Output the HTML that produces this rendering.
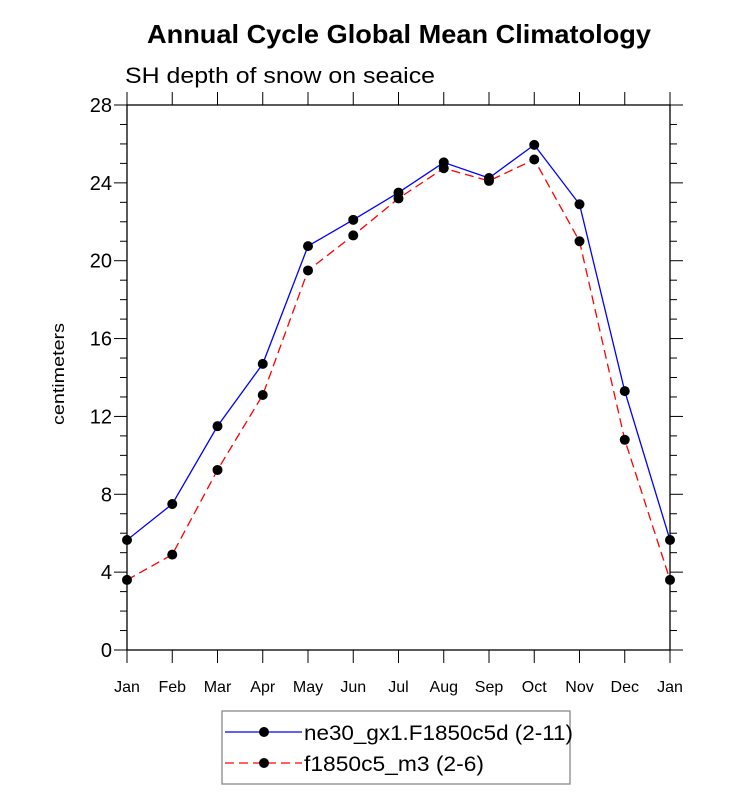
<!DOCTYPE html>
<html><head><meta charset="utf-8"><style>
body{margin:0;background:#fff}
svg text{font-family:"Liberation Sans",Arial,sans-serif}
</style></head><body>
<svg id="c" width="733" height="806" xmlns="http://www.w3.org/2000/svg">
<text x="147" y="43" font-size="26" font-weight="bold" textLength="504" lengthAdjust="spacingAndGlyphs">Annual Cycle Global Mean Climatology</text>
<text x="125" y="83" font-size="22" textLength="310" lengthAdjust="spacingAndGlyphs">SH depth of snow on seaice</text>
<text transform="translate(64,374) rotate(-90)" text-anchor="middle" font-size="17" textLength="102" lengthAdjust="spacingAndGlyphs">centimeters</text>
<g id="axes"></g>
<g id="series"></g>
<g id="legend"></g>
</svg>
<script>
const months=["Jan","Feb","Mar","Apr","May","Jun","Jul","Aug","Sep","Oct","Nov","Dec","Jan"];
const yTicks=[0,4,8,12,16,20,24,28];
const seriesA=[5.65,7.5,11.5,14.7,20.75,22.1,23.5,25.05,24.25,25.95,22.9,13.3,5.65];
const seriesB=[3.6,4.9,9.25,13.1,19.5,21.3,23.2,24.75,24.1,25.2,21.0,10.8,3.6];
const namesL=["ne30_gx1.F1850c5d (2-11)","f1850c5_m3 (2-6)"];
const legW=[269,180];
const X0=127,X1=670,Y0=650,Y1=105,YMAX=28;
const sx=i=>X0+i*(X1-X0)/(months.length-1);
const sy=v=>Y0-v*(Y0-Y1)/YMAX;
const NS="http://www.w3.org/2000/svg";
function mk(t,a,p){const e=document.createElementNS(NS,t);for(const k in a)e.setAttribute(k,a[k]);p.appendChild(e);return e;}
const ax=document.getElementById('axes');
const frame=mk('rect',{x:X0,y:Y1,width:X1-X0,height:Y0-Y1,fill:'none',stroke:'#000','stroke-width':1.3},ax);


for(let v=0;v<=YMAX;v++){
  const maj=v%4===0,len=maj?13:7,y=sy(v);
  mk('line',{x1:X0-len,x2:X0,y1:y,y2:y,stroke:'#000','stroke-width':1},ax);
  mk('line',{x1:X1,x2:X1+len,y1:y,y2:y,stroke:'#000','stroke-width':1},ax);
}
yTicks.forEach(v=>{
  const t=mk('text',{x:X0-15,y:sy(v)+7,'text-anchor':'end','font-size':20},ax);
  t.textContent=v;
  
  
});
months.forEach((m,i)=>{
  const x=sx(i);
  mk('line',{x1:x,x2:x,y1:Y0,y2:Y0+13,stroke:'#000','stroke-width':1},ax);
  mk('line',{x1:x,x2:x,y1:Y1-13,y2:Y1,stroke:'#000','stroke-width':1},ax);
  const t=mk('text',{x:x,y:Y0+42,'text-anchor':'middle','font-size':16},ax);
  t.textContent=m;
  
  
});
const sg=document.getElementById('series');
function draw(vals,color,dash,name){
  const pl=mk('polyline',{points:vals.map((v,i)=>sx(i)+','+sy(v)).join(' '),fill:'none',stroke:color,'stroke-width':1.3,'stroke-dasharray':dash},sg);
  
  
  vals.forEach((v,i)=>{
    const c=mk('circle',{cx:sx(i),cy:sy(v),r:5,fill:'#000'},sg);
    
    
  });
}
draw(seriesA,'#0000ff','none','series-ne30');
draw(seriesB,'#ff0000','9,5','series-f1850');
const lg=document.getElementById('legend');
const box=mk('rect',{x:222,y:711,width:348,height:73,fill:'none',stroke:'#888','stroke-width':1.3},lg);


[[ '#0000ff','none',732],['#ff0000','9,5',763]].forEach((s,k)=>{
  mk('line',{x1:225,x2:302,y1:s[2],y2:s[2],stroke:s[0],'stroke-width':1.3,'stroke-dasharray':s[1]},lg);
  mk('circle',{cx:264,cy:s[2],r:5,fill:'#000'},lg);
  const t=mk('text',{x:304,y:s[2]+8,'font-size':21,textLength:legW[k],lengthAdjust:'spacingAndGlyphs'},lg);
  t.textContent=namesL[k];
  
  
});
</script>
</body></html>
